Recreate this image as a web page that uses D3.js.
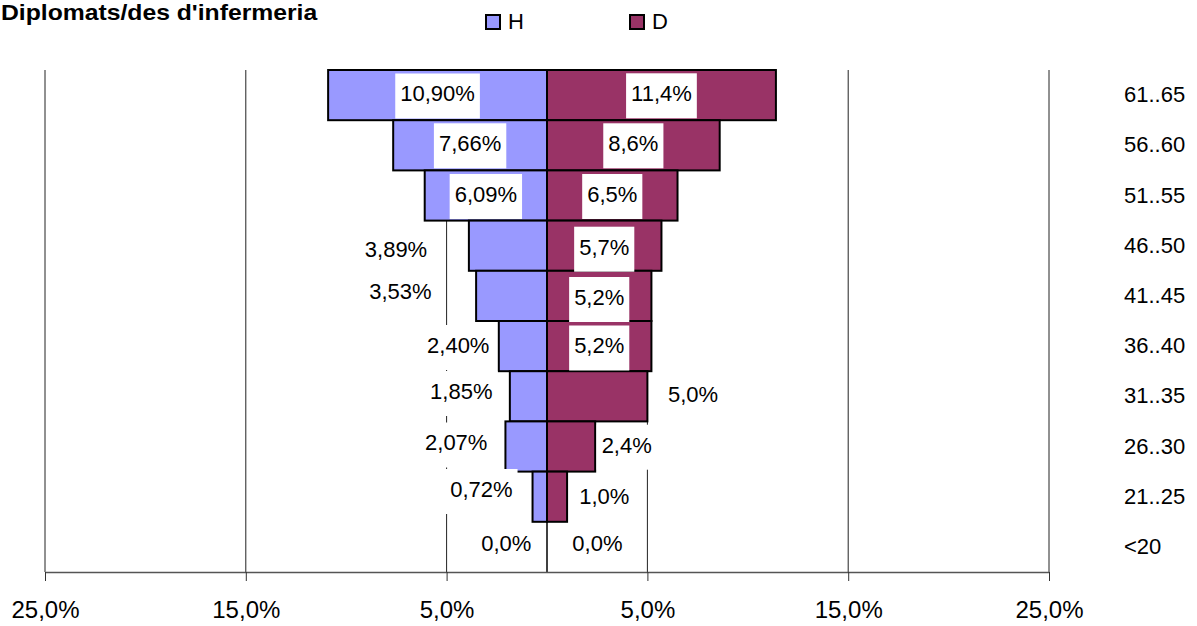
<!DOCTYPE html>
<html>
<head>
<meta charset="utf-8">
<script src="https://cdn.jsdelivr.net/npm/d3@7"></script>
<style>
  body { margin: 0; background: #fff; }
  text { font-family: Arial, "Liberation Sans", sans-serif; fill: #000; }
</style>
</head>
<body>
<svg id="chart" width="1197" height="626"></svg>
<script>
// Age groups, top to bottom
const categories = ["61..65", "56..60", "51..55", "46..50", "41..45", "36..40", "31..35", "26..30", "21..25", "<20"];
// Share of graduates per age group (%)
const hValues = [10.90, 7.66, 6.09, 3.89, 3.53, 2.40, 1.85, 2.07, 0.72, 0.0];
const dValues = [11.4, 8.6, 6.5, 5.7, 5.2, 5.2, 5.0, 2.4, 1.0, 0.0];
const hDecimals = [2, 2, 2, 2, 2, 2, 2, 2, 2, 1];
const dDecimals = [1, 1, 1, 1, 1, 1, 1, 1, 1, 1];
const tickValues = [-25, -15, -5, 5, 15, 25];
const seriesNames = ["H", "D"];
const seriesColors = ["#9999FF", "#993366"];

// Label placement: null = centred in its bar, otherwise a point on the value axis
const hLabelAt = [null, null, null, -7.52, -7.3, -4.42, -4.27, -4.52, -3.27, -2.03];
const dLabelAt = [null, null, null, null, null, null, 7.27, 3.97, 2.85, 2.51];
const hLabelDy = [-1.6, -2, -1.5, 3.3, -4.4, -1.1, -5.3, -4, -7.7, -3.9];
const dLabelDy = [-1.8, -2, -1.5, 1, 1.1, -0.6, -2.3, -1.8, -0.7, -3.9];

const svg = d3.select("#chart");
const x = d3.scaleLinear().domain([-25, 25]).range([45, 1049]);
const y = d3.scaleBand().domain(categories).range([70, 572]).padding(0);
const pct = (v, dec) => d3.format("." + dec + "f")(Math.abs(v)).replace(".", ",") + "%";

// Title (slightly widened lettering)
svg.append("text")
  .attr("transform", "translate(1,19.5) scale(1.15,1)")
  .attr("font-size", 21.5).attr("font-weight", "bold")
  .text("Diplomats/des d'infermeria");

// Legend
const legend = svg.append("g");
const legendX = [486, 630];
seriesNames.forEach((name, i) => {
  legend.append("rect")
    .attr("x", legendX[i]).attr("y", 15).attr("width", 14).attr("height", 14)
    .attr("fill", seriesColors[i]).attr("stroke", "#000").attr("stroke-width", 2);
  legend.append("text")
    .attr("x", legendX[i] + 22).attr("y", 28.5)
    .attr("font-size", 22).text(name);
});

// Vertical gridlines
svg.append("g").selectAll("line").data(tickValues).join("line")
  .attr("x1", d => x(d)).attr("x2", d => x(d))
  .attr("y1", 70).attr("y2", 572)
  .attr("stroke", "#222").attr("stroke-width", 1);

// Zero line
svg.append("line")
  .attr("x1", x(0)).attr("x2", x(0)).attr("y1", 70).attr("y2", 572)
  .attr("stroke", "#000").attr("stroke-width", 1.5);

// Bars
const rows = categories.map((c, i) => ({ c, h: hValues[i], d: dValues[i], i }));
const bars = svg.append("g").attr("stroke", "#000").attr("stroke-width", 2);
bars.selectAll("rect.h").data(rows.filter(r => r.h > 0)).join("rect")
  .attr("class", "h")
  .attr("x", r => x(-r.h)).attr("width", r => x(0) - x(-r.h))
  .attr("y", r => y(r.c)).attr("height", y.bandwidth())
  .attr("fill", seriesColors[0]);
bars.selectAll("rect.d").data(rows.filter(r => r.d > 0)).join("rect")
  .attr("class", "d")
  .attr("x", x(0)).attr("width", r => x(r.d) - x(0))
  .attr("y", r => y(r.c)).attr("height", y.bandwidth())
  .attr("fill", seriesColors[1]);

// Axis
const axis = svg.append("g").attr("transform", "translate(0,572)")
  .call(d3.axisBottom(x).tickValues(tickValues).tickSize(9).tickSizeOuter(0)
    .tickFormat(v => pct(v, 1)));
axis.select(".domain").attr("stroke", "#555").attr("stroke-width", 1.5);
axis.selectAll(".tick line").attr("stroke", "#333").attr("stroke-width", 1);
axis.selectAll(".tick text")
  .attr("y", 46).attr("dy", 0)
  .attr("font-size", 24).attr("font-family", "Arial, 'Liberation Sans', sans-serif")
  .attr("fill", "#000");

// Data labels with white boxes
const labelSize = 22;
const labels = svg.append("g");
function addLabel(cx, cy, str) {
  const g = labels.append("g");
  const box = g.append("rect").attr("fill", "#fff");
  const t = g.append("text")
    .attr("x", cx).attr("y", cy + 0.358 * labelSize)
    .attr("text-anchor", "middle").attr("font-size", labelSize)
    .text(str);
  const w = t.node().getComputedTextLength();
  box.attr("x", cx - w / 2 - 5).attr("width", w + 10)
    .attr("y", cy - 20).attr("height", 45);
}
rows.forEach(r => {
  const cyBase = y(r.c) + y.bandwidth() / 2;
  const hx = hLabelAt[r.i] === null ? (x(-r.h) + x(0)) / 2 : x(hLabelAt[r.i]);
  addLabel(hx, cyBase + hLabelDy[r.i], pct(r.h, hDecimals[r.i]));
  const dx = dLabelAt[r.i] === null ? (x(r.d) + x(0)) / 2 : x(dLabelAt[r.i]);
  addLabel(dx, cyBase + dLabelDy[r.i], pct(r.d, dDecimals[r.i]));
});

// Category labels on the right
svg.append("g").selectAll("text").data(categories).join("text")
  .attr("x", 1124)
  .attr("y", c => y(c) + y.bandwidth() / 2 + 7)
  .attr("font-size", 22)
  .text(c => c);
</script>
</body>
</html>
